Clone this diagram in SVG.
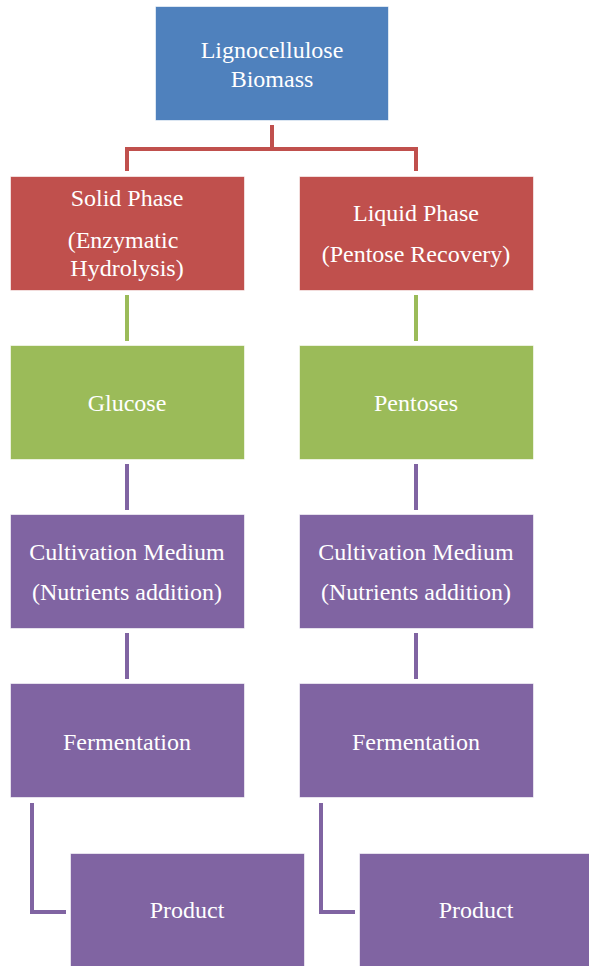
<svg xmlns="http://www.w3.org/2000/svg" width="589" height="966" viewBox="0 0 589 966">
<style>
.b{stroke:#ffffff;stroke-opacity:0.6;stroke-width:1}
.blue{fill:#4F81BD}.red{fill:#C0504D}.green{fill:#9BBB59}.purple{fill:#8064A2}
.c{fill:none;stroke-width:4;stroke-linejoin:miter}
</style>
<rect width="589" height="966" fill="#ffffff"/>
<g id="connectors">
<path class="c" stroke="#C0504D" d="M272,125 V149 M127,171 V149 H416 V171"/>
<path class="c" stroke="#9BBB59" d="M127,295 V341 M416,295 V341"/>
<path class="c" stroke="#8064A2" d="M127,464 V510 M416,464 V510 M127,633 V679 M416,633 V679"/>
<path class="c" stroke="#8064A2" d="M32,803 V912 H66 M321,803 V912 H355"/>
</g>
<g font-family="'Liberation Serif', 'Times New Roman', serif" font-size="24" fill="#ffffff" text-anchor="middle">
<g id="biomass"><rect class="b blue" x="155.5" y="6.5" width="233" height="114"/><text x="272" y="58">Lignocellulose</text><text x="272" y="87">Biomass</text></g>
<g id="solid"><rect class="b red" x="10.5" y="176.5" width="234" height="114"/><text x="127" y="206">Solid Phase</text><text x="123" y="248">(Enzymatic</text><text x="127" y="276">Hydrolysis)</text></g>
<g id="liquid"><rect class="b red" x="299.5" y="176.5" width="234" height="114"/><text x="416" y="221">Liquid Phase</text><text x="416" y="262">(Pentose Recovery)</text></g>
<g id="glucose"><rect class="b green" x="10.5" y="345.5" width="234" height="114"/><text x="127" y="411">Glucose</text></g>
<g id="pentoses"><rect class="b green" x="299.5" y="345.5" width="234" height="114"/><text x="416" y="411">Pentoses</text></g>
<g id="medium1"><rect class="b purple" x="10.5" y="514.5" width="234" height="114"/><text x="127" y="560">Cultivation Medium</text><text x="127" y="600">(Nutrients addition)</text></g>
<g id="medium2"><rect class="b purple" x="299.5" y="514.5" width="234" height="114"/><text x="416" y="560">Cultivation Medium</text><text x="416" y="600">(Nutrients addition)</text></g>
<g id="ferm1"><rect class="b purple" x="10.5" y="683.5" width="234" height="114"/><text x="127" y="750">Fermentation</text></g>
<g id="ferm2"><rect class="b purple" x="299.5" y="683.5" width="234" height="114"/><text x="416" y="750">Fermentation</text></g>
<g id="product1"><rect class="b purple" x="70.5" y="853.5" width="234" height="114"/><text x="187" y="918">Product</text></g>
<g id="product2"><rect class="b purple" x="359.5" y="853.5" width="234" height="114"/><text x="476" y="918">Product</text></g>
</g>
</svg>
